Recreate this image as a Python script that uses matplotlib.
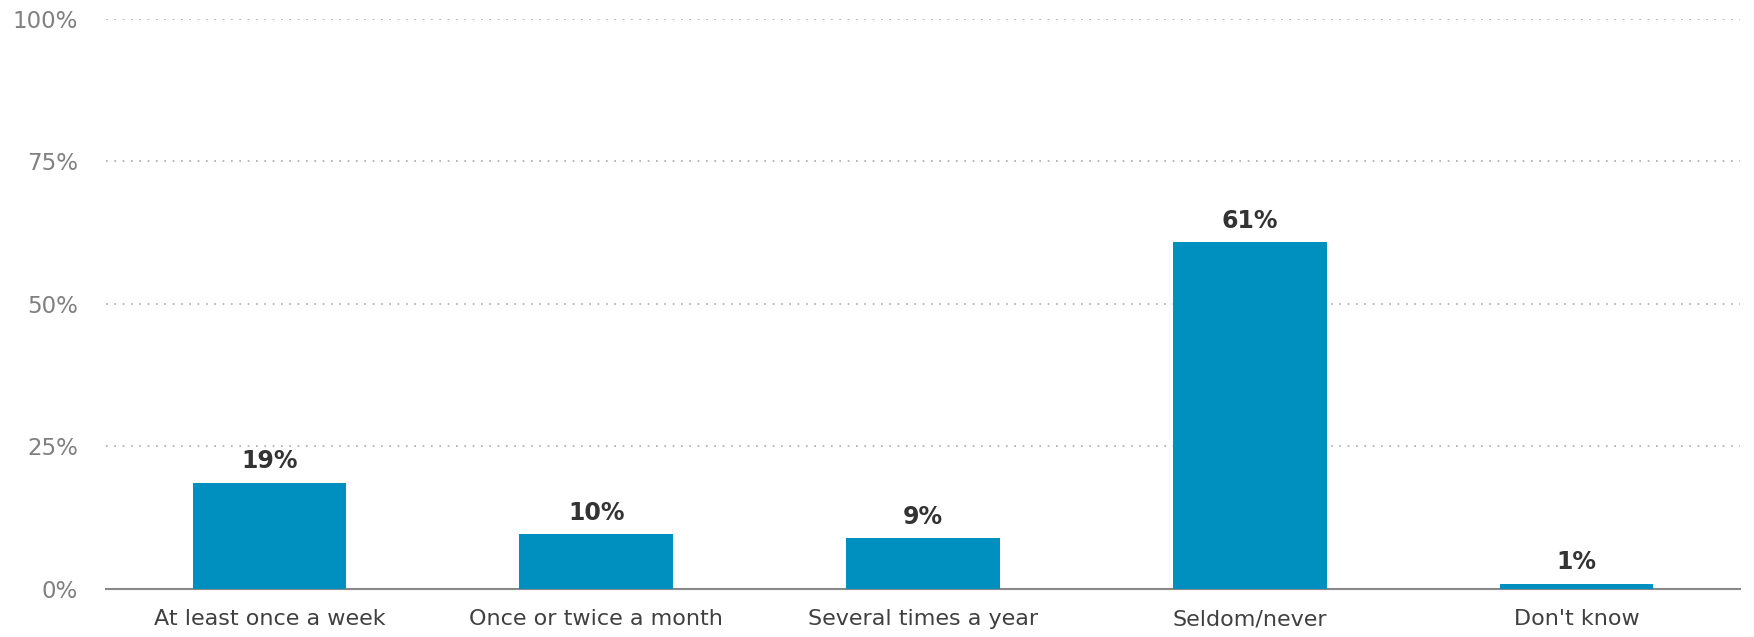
import matplotlib.pyplot as plt

categories = ['At least once a week', 'Once or twice a month', 'Several times a year',
              'Seldom/never', "Don't know"]
values = [18.5, 9.5, 8.8, 60.8, 0.8]
value_labels = ['19%', '10%', '9%', '61%', '1%']
yticks = [0, 25, 50, 75, 100]
ytick_labels = ['0%', '25%', '50%', '75%', '100%']

plt.rcParams['font.family'] = ['DejaVu Sans']

fig = plt.figure(figsize=(17.54, 6.37), dpi=100)
ax = fig.add_axes([0.0604, 0.0761, 0.9316, 0.894])

x = range(len(categories))
bars = ax.bar(x, values, width=0.47, color='#0090c0', zorder=3)

for b, lab in zip(bars, value_labels):
    ax.annotate(lab, (b.get_x() + b.get_width() / 2, b.get_height()),
                xytext=(0, 7), textcoords='offset points', ha='center', va='bottom',
                fontsize=17, fontweight='bold', color='#333333')

ax.set_xlim(-0.5, len(categories) - 0.5)
ax.set_ylim(0, 100)
ax.set_yticks(yticks)
ax.set_yticklabels(ytick_labels, fontsize=16.5, color='#808080')
ax.set_xticks(list(x))
ax.set_xticklabels(categories, fontsize=16, color='#404040')
ax.tick_params(axis='both', length=0)
ax.tick_params(axis='y', pad=20)
ax.tick_params(axis='x', pad=15)

ax.yaxis.grid(True, linestyle=(0, (1, 4)), color='#aaaaaa', linewidth=1.2, zorder=0)
for s in ['top', 'right', 'left']:
    ax.spines[s].set_visible(False)
ax.spines['bottom'].set_color('#888888')
ax.spines['bottom'].set_linewidth(1.5)

fig.savefig('out.png', dpi=100)
